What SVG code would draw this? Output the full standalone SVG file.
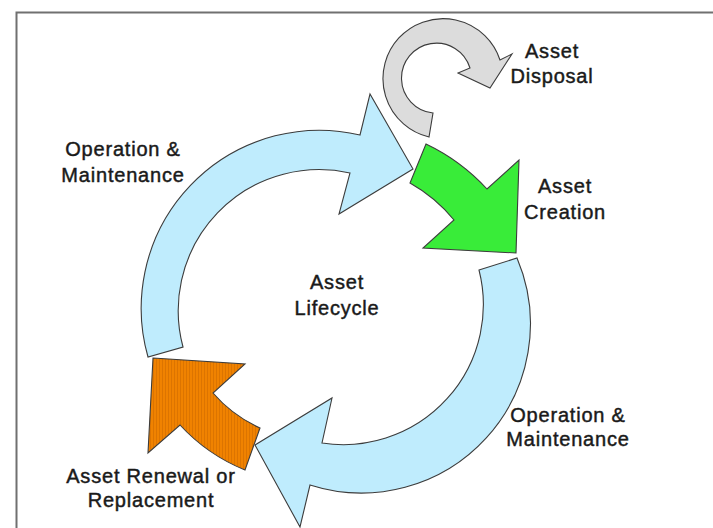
<svg xmlns="http://www.w3.org/2000/svg" width="713" height="528" viewBox="0 0 713 528">
  <defs>
    <pattern id="stripes" width="3" height="10" patternUnits="userSpaceOnUse">
      <rect width="3" height="10" fill="#f08200"/>
      <rect width="1" height="10" fill="#dc7400"/>
    </pattern>
  </defs>
  <style>
    .lbl { font-family: "Liberation Sans", Arial, sans-serif; font-size: 20px; fill: #1a1a1a; stroke: #1a1a1a; stroke-width: 0.45px; text-anchor: middle; letter-spacing: 0.8px; }
    .shape { stroke: #3c3c3c; stroke-width: 1.1; stroke-linejoin: miter; }
    .blue { fill: #bfecfd; }
    .green { fill: #39ec39; }
    .gray { fill: #dcdcdc; }
    .orange { fill: url(#stripes); }
  </style>
  <rect x="0" y="0" width="713" height="528" fill="#ffffff"/>
  <rect x="16.5" y="12.5" width="740" height="560" fill="none" stroke="#707070" stroke-width="2"/>

  <g id="connectors"></g>

  <g id="asset-disposal">
    <path class="shape gray" d="M429,137 A60,60 0 1 1 500,60 L512,54 L490,88 L458,73 L470,68 A35,35 0 1 0 433,113 Z"/>
    <text class="lbl" x="552" y="58">Asset</text>
    <text class="lbl" x="552" y="83">Disposal</text>
  </g>

  <g id="asset-creation">
    <path class="shape green" d="M426,144 A200,200 0 0 1 487,189 L519,160 L516,253 L423,248 L454,220 A155,155 0 0 0 410,183 Z"/>
    <text class="lbl" x="565" y="193">Asset</text>
    <text class="lbl" x="565" y="219">Creation</text>
  </g>

  <g id="operation-maintenance-right">
    <path class="shape blue" d="M479,270 L517,258 A169,169 0 0 1 310,485 L300,527 L255,445 L332,398 L322,443 A140,140 0 0 0 479,270 Z"/>
    <text class="lbl" x="568" y="422">Operation &amp;</text>
    <text class="lbl" x="568" y="446">Maintenance</text>
  </g>

  <g id="asset-renewal">
    <path class="shape orange" d="M153,358 L245,364 L213,393 A137,137 0 0 0 260,428 L245,470 A180,180 0 0 1 180,425 L148,453 Z"/>
    <text class="lbl" x="151" y="483">Asset Renewal or</text>
    <text class="lbl" x="151" y="507">Replacement</text>
  </g>

  <g id="operation-maintenance-left">
    <path class="shape blue" d="M148,357 A178,178 0 0 1 360,135 L370,94 L413,169 L339,214 L350,173 A141,141 0 0 0 183,347 Z"/>
    <text class="lbl" x="123" y="156">Operation &amp;</text>
    <text class="lbl" x="123" y="182">Maintenance</text>
  </g>

  <g id="asset-lifecycle">
    <text class="lbl" x="337" y="289">Asset</text>
    <text class="lbl" x="337" y="315">Lifecycle</text>
  </g>
</svg>
